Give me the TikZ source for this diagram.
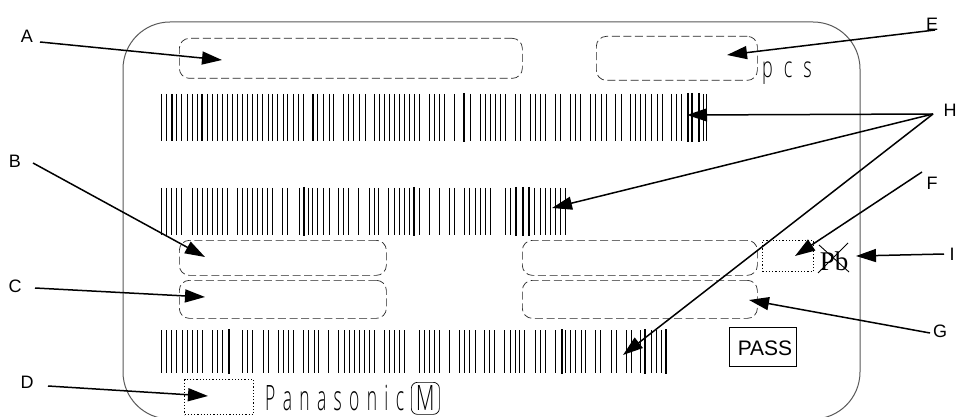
\documentclass[tikz,border=0pt]{standalone}
\usepackage{fontspec}
\setmainfont{Liberation Sans}
\newfontfamily\serifpb{Liberation Serif}
\newfontfamily\stickbig[FakeStretch=0.5,LetterSpace=21]{Open Sans Light}
\newfontfamily\stickpcs[FakeStretch=0.62,LetterSpace=38]{Open Sans Light}
\newfontfamily\stickm[FakeStretch=0.62]{Open Sans Light}
\usetikzlibrary{arrows.meta}
\tikzset{
 lbl/.style={font=\fontsize{18}{20}\selectfont,inner sep=2pt,text=black},
 arr/.style={draw=black,line width=1.5pt,-{Triangle[length=20pt,width=13pt]},shorten <=0pt},
 dashbox/.style={draw=black!85,line width=.7pt,rounded corners=10pt,dash pattern=on 8pt off 3.6pt},
 dotbox/.style={draw=black,line width=1pt,dash pattern=on 1.2pt off 2pt},
 outer/.style={draw=black!65,line width=1pt,rounded corners=47pt},
 thinbar/.style={draw=black,line width=.8pt},
 thickbar/.style={draw=black,line width=1.7pt},
}
\begin{document}
\begin{tikzpicture}[x=1pt,y=-1pt]
\useasboundingbox (0,0) rectangle (959,417);
\clip (0,0) rectangle (959,417);
\fill[white] (0,0) rectangle (959,417);
\draw[outer] (123,22) rectangle (860,419);
% dashed boxes
\node[dashbox,minimum width=343pt,minimum height=40pt,anchor=north west] (boxA) at (179,38) {};
\node[dashbox,minimum width=161pt,minimum height=44pt,anchor=north west] (boxE) at (596,36) {};
\node[dashbox,minimum width=207pt,minimum height=35pt,anchor=north west] (boxB) at (179,240) {};
\node[dashbox,minimum width=207pt,minimum height=38pt,anchor=north west] (boxC) at (179,280) {};
\node[dashbox,minimum width=235pt,minimum height=35pt,anchor=north west] (boxF) at (522,240) {};
\node[dashbox,minimum width=235pt,minimum height=38pt,anchor=north west] (boxG) at (522,280) {};
\node[dotbox,minimum width=51pt,minimum height=31pt,anchor=north west] (boxP) at (762,240) {};
\node[dotbox,minimum width=69pt,minimum height=35pt,anchor=north west] (boxD) at (184,379) {};
% barcodes
\foreach \v in {125,139,155,170,185,201,216,232,245,262,277,293,308,323,338,352,367,381,397,413,427,444,458,473,489,503,520,535,550,578,593,610,627,641,669,686,701,717,735,762,777,792,807,822,837,853,868,882,897}
  \draw[thinbar] ({120+\v/3},94) -- ({120+\v/3},141);
\foreach \v in {155,245,578} \draw[thinbar] ({120.4+\v/3},94) -- ({120.4+\v/3},141);
\foreach \v in {28,44,58,72,102,150,180,195,210,225,240,255,287,300,330,345,362,377,405,420,452,467,482,510,526,543,558,587,603,632,647,662,677,695,712,727,755,770,785,850,860}
  \draw[thinbar] ({420+\v/3},94) -- ({420+\v/3},141);
\foreach \v in {131,803,815,838}
  \draw[thickbar] ({420+\v/3},93) -- ({420+\v/3},142);
\foreach \v in {125,139,155,170,185,218,232,247,262,277,293,308,323,352,367,382,397,413,428,443,458,488,503,537,565,578,593,610,627,656,670,686,716,747,762,776,806,822,837,852,867,897}
  \draw[thinbar] ({120+\v/3},188) -- ({120+\v/3},235);
\foreach \v in {553,882} \draw[thickbar] ({120+\v/3},187) -- ({120+\v/3},236);
\foreach \v in {28,58,87,102,133,148,165,180,195,210,255,270,342,362,377,392,407,420,437}
  \draw[thinbar] ({420+\v/3},188) -- ({420+\v/3},235);
\foreach \v in {288,308,327} \draw[thickbar] ({420+\v/3},187) -- ({420+\v/3},236);
\foreach \v in {65,80,95,110,127,142,158,172,187,218,232,248,307,322,338,370,385,415,430,446,461,491,506,522,536,565,596,612,627,642,658,672,688,702,733,748,764,778,793,838,852,868}
  \draw[thinbar] ({140+\v/3},330) -- ({140+\v/3},373);
\draw[thickbar] ({140+266/3},329) -- ({140+266/3},374);
\foreach \v in {12,28,57,88,103,119,135,163,178,193,224,240,255,269,284,315,331,347,375,407,422,437,453,467,497,512,543,558,588,603,632,665,680,695}
  \draw[thinbar] ({430+\v/3},330) -- ({430+\v/3},373);
\foreach \v in {397,646,708} \draw[thickbar] ({430+\v/3},329) -- ({430+\v/3},374);
% printed texts
\node[anchor=base west,inner sep=0pt,font=\fontsize{29}{30}\stickpcs] (pcs) at (762,78) {pcs};
\node[anchor=base west,inner sep=0pt,font=\fontsize{35}{36}\stickbig] (pana) at (265,410) {Panasonic};
\node[draw=black,line width=.7pt,rounded corners=6pt,minimum width=28pt,minimum height=32pt,anchor=north west,inner sep=0pt] (mbox) at (411,382) {};
\node[inner sep=0pt,font=\fontsize{35}{36}\stickm] (mtxt) at (mbox.center) {M};
\node[draw=black,line width=1.1pt,minimum width=67pt,minimum height=39pt,anchor=north west,inner sep=0pt] (pass) at (729,327) {};
\node[anchor=base,inner sep=0pt,font=\fontsize{21}{22}\selectfont] (passt) at (765,355) {PASS};
\node[anchor=base,inner sep=0pt,font=\fontsize{27}{28}\serifpb] (pb) at (834,270) {Pb};
\coordinate (x1a) at (819,245); \coordinate (x1b) at (849,272);
\coordinate (x2a) at (848,243); \coordinate (x2b) at (818,273);
\draw[black,line width=.9pt] (x1a) -- (x1b);
\draw[black,line width=.9pt] (x2a) -- (x2b);
% labels
\node[lbl] (A) at (27,36) {A};
\node[lbl] (B) at (15,161) {B};
\node[lbl] (C) at (15,286) {C};
\node[lbl] (D) at (27,382) {D};
\node[lbl] (E) at (932,24) {E};
\node[lbl] (F) at (932,183) {F};
\node[lbl] (G) at (940,331) {G};
\node[lbl] (H) at (950,110) {H};
\node[lbl] (I) at (952,254) {I};
% arrow ends
\coordinate (sA) at (40,42); \coordinate (tA) at (222,60);
\coordinate (sB) at (33,163); \coordinate (tB) at (205,257);
\coordinate (sC) at (35,288); \coordinate (tC) at (205,297);
\coordinate (sD) at (48,386); \coordinate (tD) at (208,396);
\coordinate (sE) at (935,30); \coordinate (tE) at (727,55);
\coordinate (sF) at (922,172); \coordinate (tF) at (795,256);
\coordinate (sG) at (930,333); \coordinate (tG) at (749,300);
\coordinate (sH) at (933,114); \coordinate (tH1) at (687,115); \coordinate (tH2) at (552,208); \coordinate (tH3) at (623,355);
\coordinate (sI) at (944,254); \coordinate (tI) at (856,256);
\draw[arr] (sA) -- (tA);
\draw[arr] (sB) -- (tB);
\draw[arr] (sC) -- (tC);
\draw[arr] (sD) -- (tD);
\draw[arr] (sE) -- (tE);
\draw[arr] (sF) -- (tF);
\draw[arr] (sG) -- (tG);
\draw[arr] (sH) -- (tH1);
\draw[arr] (sH) -- (tH2);
\draw[arr] (sH) -- (tH3);
\draw[arr] (sI) -- (tI);
\end{tikzpicture}
\end{document}
